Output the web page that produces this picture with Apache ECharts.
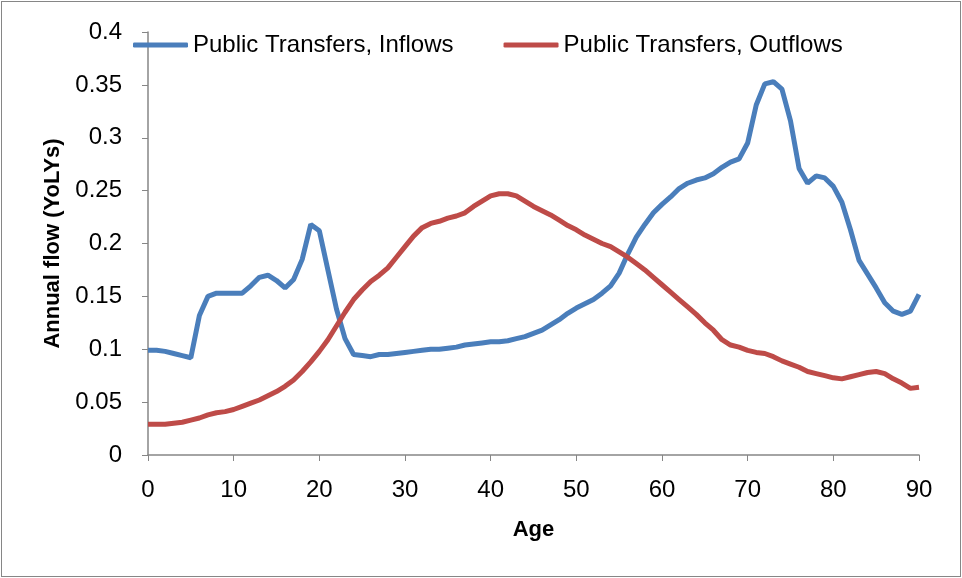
<!DOCTYPE html>
<html>
<head>
<meta charset="utf-8">
<script src="https://cdn.jsdelivr.net/npm/echarts@6/dist/echarts.min.js"></script>
<style>
  html, body { margin: 0; padding: 0; background: #fff; }
  #chart { width: 962px; height: 578px; }
  .frame { position: absolute; left: 1px; top: 1px; width: 958px; height: 574px; border: 1px solid #868686; pointer-events: none; }
</style>
</head>
<body>
<div id="chart"></div>
<div class="frame"></div>
<script>
// ages 0..90
const ages = [];
for (let a = 0; a <= 90; a++) ages.push(a);

// Public Transfers, Inflows
const inflows = [
  0.099, 0.099, 0.098, 0.096, 0.094, 0.092, 0.132, 0.150, 0.153, 0.153,
  0.153, 0.153, 0.160, 0.168, 0.170, 0.165, 0.158, 0.166, 0.185, 0.218,
  0.212, 0.175, 0.138, 0.110, 0.095, 0.094, 0.093, 0.095, 0.095, 0.096,
  0.097, 0.098, 0.099, 0.100, 0.100, 0.101, 0.102, 0.104, 0.105, 0.106,
  0.107, 0.107, 0.108, 0.110, 0.112, 0.115, 0.118, 0.123, 0.128, 0.134,
  0.139, 0.143, 0.147, 0.153, 0.160, 0.172, 0.190, 0.206, 0.218, 0.229,
  0.237, 0.244, 0.252, 0.257, 0.260, 0.262, 0.266, 0.272, 0.277, 0.280,
  0.295, 0.331, 0.351, 0.353, 0.346, 0.316, 0.271, 0.257, 0.264, 0.262,
  0.254, 0.239, 0.213, 0.184, 0.171, 0.158, 0.144, 0.136, 0.133, 0.136,
  0.152
];

// Public Transfers, Outflows
const outflows = [
  0.029, 0.029, 0.029, 0.030, 0.031, 0.033, 0.035, 0.038, 0.040, 0.041,
  0.043, 0.046, 0.049, 0.052, 0.056, 0.060, 0.065, 0.071, 0.079, 0.088,
  0.098, 0.109, 0.122, 0.135, 0.147, 0.156, 0.164, 0.170, 0.177, 0.187,
  0.197, 0.207, 0.215, 0.219, 0.221, 0.224, 0.226, 0.229, 0.235, 0.240,
  0.245, 0.247, 0.247, 0.245, 0.240, 0.235, 0.231, 0.227, 0.222, 0.217,
  0.213, 0.208, 0.204, 0.200, 0.197, 0.192, 0.187, 0.181, 0.175, 0.168,
  0.161, 0.154, 0.147, 0.140, 0.133, 0.125, 0.118, 0.109, 0.104, 0.102,
  0.099, 0.097, 0.096, 0.093, 0.089, 0.086, 0.083, 0.079, 0.077, 0.075,
  0.073, 0.072, 0.074, 0.076, 0.078, 0.079, 0.077, 0.072, 0.068, 0.063,
  0.064
];

const seriesNames = ['Public Transfers, Inflows', 'Public Transfers, Outflows'];
const colors = ['#4A7EBB', '#BE4B48'];

const font = '"Liberation Sans", Arial, sans-serif';
const axisGray = '#868686';

const chart = echarts.init(document.getElementById('chart'));

const pair = (vals) => ages.map((a, i) => [a, vals[i]]);

chart.setOption({
  animation: false,
  textStyle: { fontFamily: font },
  grid: { left: 148, right: 43, top: 32, bottom: 123 },
  legend: {
    top: 28,
    left: 128,
    itemWidth: 55,
    itemHeight: 5,
    itemGap: 50,
    icon: 'roundRect',
    textStyle: { fontSize: 24, color: '#000', fontFamily: font },
    data: seriesNames
  },
  xAxis: {
    type: 'value',
    min: 0,
    max: 90,
    interval: 10,
    name: 'Age',
    nameLocation: 'middle',
    nameGap: 64,
    nameTextStyle: { fontSize: 22, fontWeight: 'bold', color: '#000', fontFamily: font },
    axisLine: { lineStyle: { color: axisGray, width: 1.5 } },
    axisTick: { show: true, length: 6, lineStyle: { color: axisGray } },
    axisLabel: { fontSize: 24, color: '#000', margin: 23 },
    splitLine: { show: false }
  },
  yAxis: {
    type: 'value',
    min: 0,
    max: 0.4,
    interval: 0.05,
    name: 'Annual flow (YoLYs)',
    nameLocation: 'middle',
    nameGap: 75,
    nameTextStyle: { fontSize: 22, fontWeight: 'bold', color: '#000', fontFamily: font },
    axisLine: { show: true, lineStyle: { color: axisGray, width: 1.5 } },
    axisTick: { show: true, length: 6, lineStyle: { color: axisGray } },
    axisLabel: { fontSize: 24, color: '#000', margin: 26, formatter: v => String(+v.toFixed(2)) },
    splitLine: { show: false }
  },
  series: [
    {
      name: seriesNames[0],
      type: 'line',
      data: pair(inflows),
      showSymbol: false,
      symbol: 'none',
      lineStyle: { color: colors[0], width: 5 },
      itemStyle: { color: colors[0] }
    },
    {
      name: seriesNames[1],
      type: 'line',
      data: pair(outflows),
      showSymbol: false,
      symbol: 'none',
      lineStyle: { color: colors[1], width: 5 },
      itemStyle: { color: colors[1] }
    }
  ]
});
</script>
</body>
</html>
